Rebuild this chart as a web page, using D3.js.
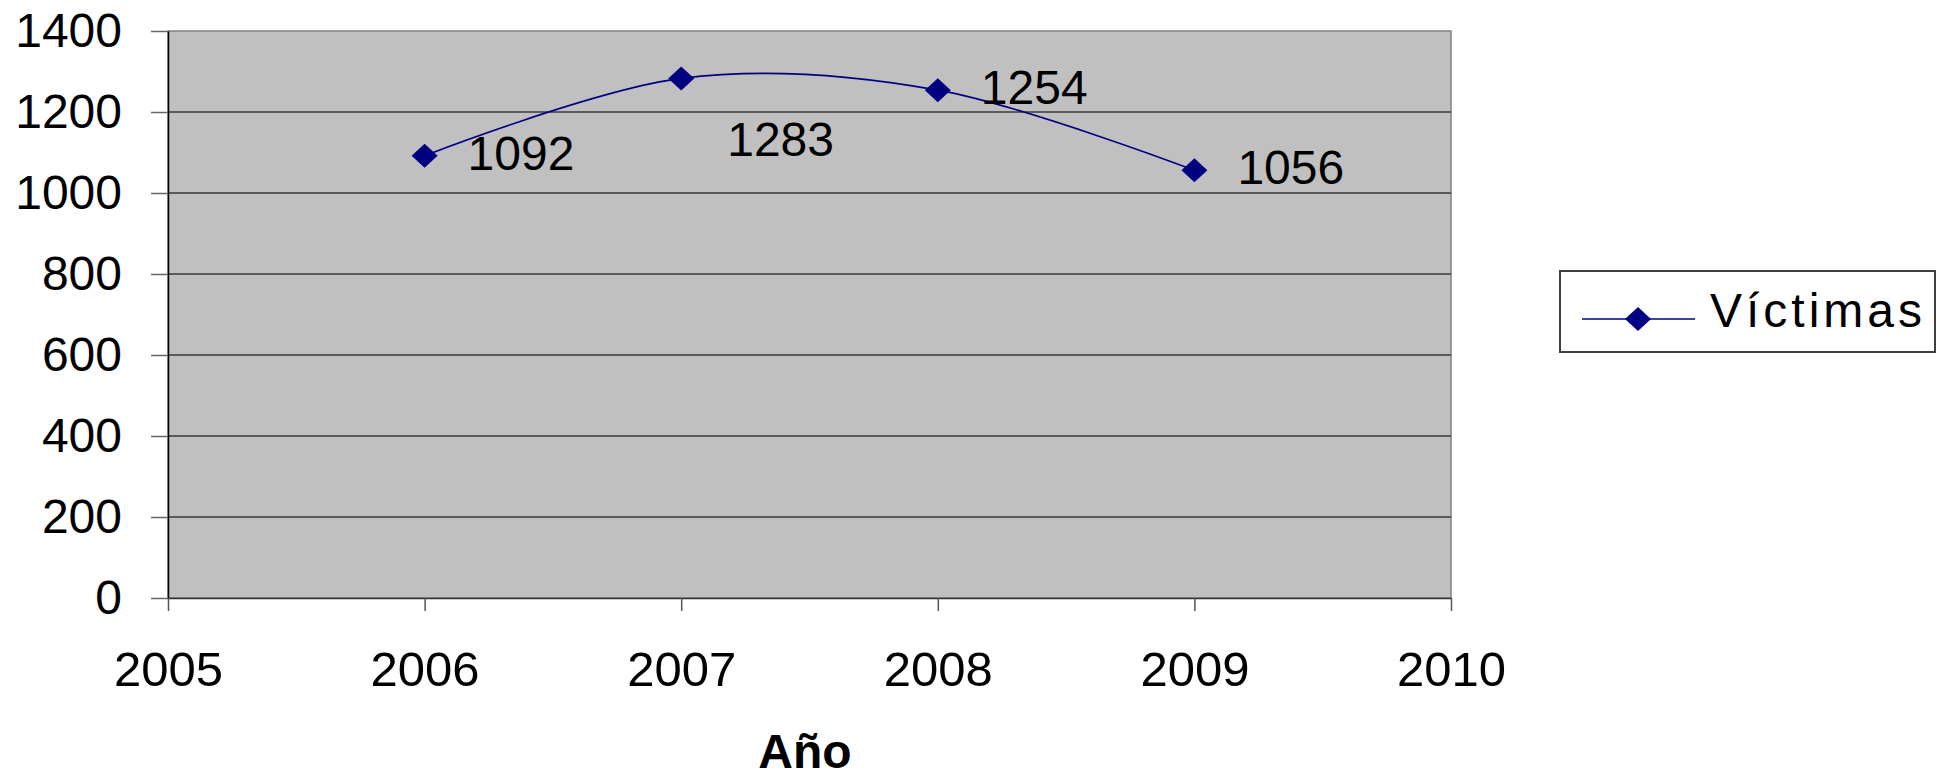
<!DOCTYPE html>
<html>
<head>
<meta charset="utf-8">
<script src="https://cdn.jsdelivr.net/npm/d3@7"></script>
<style>
  body { margin: 0; background: #fff; }
  svg { display: block; font-family: "Liberation Sans", Arial, sans-serif; }
</style>
</head>
<body>
<svg id="chart" width="1948" height="779"></svg>
<script>
// Víctimas por año
const years   = [2006, 2007, 2008, 2009];
const victims = [1092, 1283, 1254, 1056];
const yTicks  = [0, 200, 400, 600, 800, 1000, 1200, 1400];
const xTicks  = [2005, 2006, 2007, 2008, 2009, 2010];
const seriesName = 'Víctimas';
const xTitle = 'Año';

const plot = { left: 168, right: 1451, top: 31, bottom: 598 };
const NAVY = '#000080';

const svg = d3.select('#chart');

const x = d3.scaleLinear().domain([2005, 2010]).range([plot.left, plot.right]);
const y = d3.scaleLinear().domain([0, 1400]).range([plot.bottom, plot.top]);

// plot background
svg.append('rect')
  .attr('x', plot.left).attr('y', plot.top)
  .attr('width', plot.right - plot.left).attr('height', plot.bottom - plot.top)
  .attr('fill', '#c0c0c0')
  .attr('stroke', '#808080').attr('stroke-width', 1.5);

// gridlines
svg.append('g').selectAll('line')
  .data(yTicks.filter(v => v > 0 && v < 1400))
  .join('line')
  .attr('x1', plot.left).attr('x2', plot.right)
  .attr('y1', d => y(d)).attr('y2', d => y(d))
  .attr('stroke', '#3a3a3a').attr('stroke-width', 1.5);

// y axis
const yAxis = svg.append('g')
  .attr('transform', `translate(${plot.left},0)`)
  .call(d3.axisLeft(y).tickValues(yTicks).tickFormat(d3.format('d'))
    .tickSize(17).tickPadding(29).tickSizeOuter(0));
yAxis.select('.domain').attr('stroke', '#000').attr('stroke-width', 1.5);
yAxis.selectAll('.tick line').attr('stroke', '#666').attr('stroke-width', 1.5);
yAxis.selectAll('text').attr('font-size', 48).attr('fill', '#000')
  .attr('font-family', '"Liberation Sans", Arial, sans-serif');

// x axis
const xAxis = svg.append('g')
  .attr('transform', `translate(0,${plot.bottom})`)
  .call(d3.axisBottom(x).tickValues(xTicks).tickFormat(d3.format('d'))
    .tickSize(13).tickPadding(40).tickSizeOuter(0));
xAxis.select('.domain').attr('stroke', '#333').attr('stroke-width', 1.5);
xAxis.selectAll('.tick line').attr('stroke', '#555').attr('stroke-width', 1.5);
xAxis.selectAll('text').attr('font-size', 49).attr('fill', '#000')
  .attr('font-family', '"Liberation Sans", Arial, sans-serif');

// x title
svg.append('text')
  .attr('x', 805).attr('y', 768)
  .attr('text-anchor', 'middle')
  .attr('font-size', 48).attr('font-weight', 'bold')
  .text(xTitle);

const pts = years.map((yr, i) => ({ year: yr, value: victims[i] }));

// smoothed line (Excel-style)
const line = d3.line()
  .x(d => x(d.year)).y(d => y(d.value))
  .curve(d3.curveCardinal.tension(0));
svg.append('path')
  .datum(pts)
  .attr('d', line)
  .attr('fill', 'none')
  .attr('stroke', NAVY).attr('stroke-width', 1.6);

// markers
const diamond = (cx, cy) => `M${cx},${cy - 12}L${cx + 13},${cy}L${cx},${cy + 12}L${cx - 13},${cy}Z`;
svg.append('g').selectAll('path')
  .data(pts)
  .join('path')
  .attr('d', d => diamond(x(d.year), y(d.value)))
  .attr('fill', NAVY);

// data labels (2007 label sits below the point)
svg.append('g').selectAll('text')
  .data(pts)
  .join('text')
  .attr('x', d => x(d.year) + (d.year === 2007 ? 46 : 43))
  .attr('y', d => y(d.value) + (d.year === 2007 ? 78 : 14))
  .attr('font-size', 48)
  .text(d => d.value);

// legend
const lg = svg.append('g');
lg.append('rect')
  .attr('x', 1560).attr('y', 271).attr('width', 375).attr('height', 81)
  .attr('fill', '#fff').attr('stroke', '#404040').attr('stroke-width', 2);
lg.append('line')
  .attr('x1', 1582).attr('x2', 1695).attr('y1', 319).attr('y2', 319)
  .attr('stroke', NAVY).attr('stroke-width', 1.6);
lg.append('path').attr('d', diamond(1638, 319)).attr('fill', NAVY);
lg.append('text')
  .attr('x', 1710).attr('y', 327)
  .attr('font-size', 48).attr('letter-spacing', 4)
  .text(seriesName);
</script>
</body>
</html>
